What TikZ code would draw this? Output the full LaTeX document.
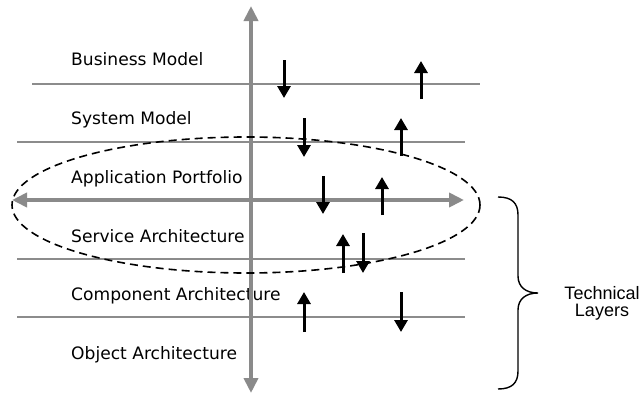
\documentclass[tikz,border=0pt]{standalone}
\usepackage{fontspec}
\setmainfont{DejaVu Sans}
\newfontfamily\bracefont{Liberation Sans}
\usetikzlibrary{arrows.meta}
\definecolor{axisgray}{HTML}{8A8A8A}
\definecolor{rulegray}{HTML}{8C8C8C}
\begin{document}
\begin{tikzpicture}[x=1pt,y=-1pt,
  layer/.style={anchor=base west,inner sep=0pt,font=\fontsize{17.1}{20}\selectfont},
  side/.style={anchor=base,inner sep=0pt,font=\bracefont\fontsize{18}{17}\selectfont},
  rule/.style={rulegray,line width=1.5pt},
  axis/.style={axisgray,line width=4pt,-{Triangle[length=15pt,width=14pt]}},
  flow/.style={black,line width=3pt,-{Triangle[length=12pt,width=13pt]}},
  scopeline/.style={black,line width=1.6pt,dash pattern=on 8pt off 5pt}]
\useasboundingbox (0,0) rectangle (641,394);

% layer separators
\draw[rule] (32,84) -- (480,84);
\draw[rule] (17,142) -- (465,142);
\draw[rule] (17,259) -- (465,259);
\draw[rule] (17,317) -- (465,317);

% layer names
\node[layer] (bm) at (71,65)  {Business Model};
\node[layer] (sm) at (71,124) {System Model};
\node[layer] (ap) at (71,183) {Application Portfolio};
\node[layer] (sa) at (71,242) {Service Architecture};
\node[layer] (ca) at (71,300) {Component Architecture};
\node[layer] (oa) at (71,359) {Object Architecture};

% main axes
\coordinate (vmid) at (251,200);
\coordinate (vtop) at (251,6);
\coordinate (vbot) at (251,393);
\coordinate (hleft) at (12,200);
\coordinate (hright) at (464,200);
\draw[axis] (vmid) -- (vtop);
\draw[axis] (vmid) -- (vbot);
\draw[axis] (vmid) -- (hleft);
\draw[axis] (vmid) -- (hright);

% scope of the application portfolio
\draw[scopeline] (246,205) ellipse [x radius=234, y radius=68];

% top-down and bottom-up flows between layers
\draw[flow] (284,60) -- (284,98);
\draw[flow] (421,99) -- (421,61);
\draw[flow] (304,118) -- (304,157);
\draw[flow] (401,156) -- (401,118);
\draw[flow] (323,176) -- (323,214);
\draw[flow] (382,215) -- (382,177);
\draw[flow] (343,273) -- (343,234);
\draw[flow] (363,233) -- (363,273);
\draw[flow] (304,332) -- (304,292);
\draw[flow] (401,292) -- (401,332);

% brace grouping the technical layers
\draw[black,line width=1.4pt]
  (498,197) .. controls (512,197) and (518,203) .. (518,215)
  -- (518,276) .. controls (518,287) and (526,293) .. (538,293)
  .. controls (526,293) and (518,299) .. (518,310)
  -- (518,371) .. controls (518,383) and (512,389) .. (498,389);
\node[side] (tech) at (602,299) {Technical};
\node[side] (lay) at (602,316) {Layers};
\end{tikzpicture}
\end{document}
